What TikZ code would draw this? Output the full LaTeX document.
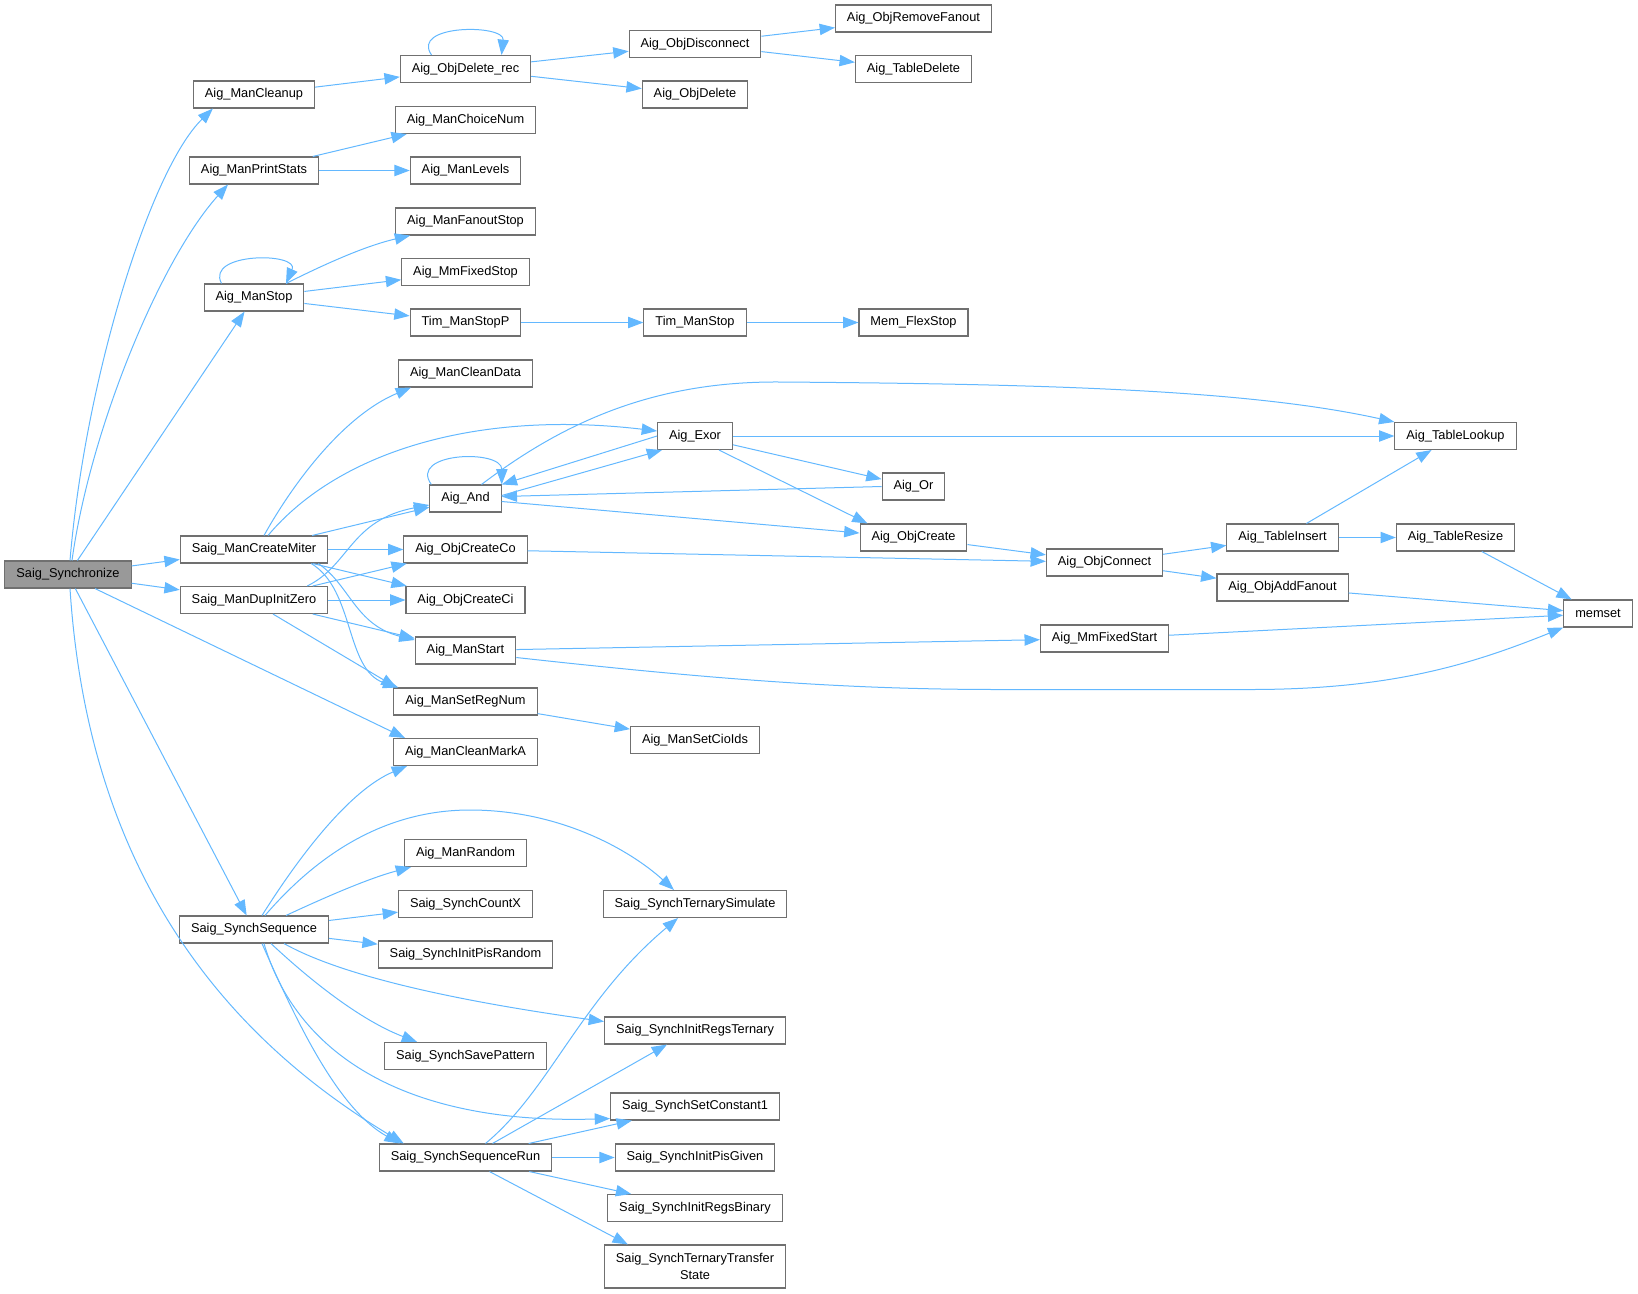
\documentclass[tikz,border=0pt]{standalone}
\usepackage{fontspec}
\setmainfont{Liberation Sans}
\usetikzlibrary{arrows.meta,calc}
\definecolor{edgeblue}{HTML}{63B8FF}
\definecolor{boxgray}{HTML}{707070}
\definecolor{rootgray}{HTML}{999999}

\begin{document}
\begin{tikzpicture}[x=0.75pt,y=-0.75pt,
		fn/.style={draw=boxgray,fill=white,line width=0.8pt,inner xsep=8.6pt,inner ysep=0pt,
			minimum height=20.25pt,font=\fontsize{9.6}{12.5}\selectfont},
		root/.style={fn,fill=rootgray},
		call/.style={draw=edgeblue,line width=0.75pt,-{Triangle[length=11.5pt,width=8.5pt]}}]
		\useasboundingbox (0,0) rectangle (1638,1293);

		\node[root] (sync) at (68,574.5) {Saig\_Synchronize};
		\node[fn] (cleanup) at (254,94.5) {Aig\_ManCleanup};
		\node[fn] (printstats) at (254,170.5) {Aig\_ManPrintStats};
		\node[fn] (manstop) at (254,297.5) {Aig\_ManStop};
		\node[fn] (miter) at (254,549.5) {Saig\_ManCreateMiter};
		\node[fn] (dupinit) at (254,600) {Saig\_ManDupInitZero};
		\node[fn] (synchseq) at (254,929.5) {Saig\_SynchSequence};
		\node[fn] (delrec) at (465.5,69) {Aig\_ObjDelete\_rec};
		\node[fn] (choicenum) at (465.5,120) {Aig\_ManChoiceNum};
		\node[fn] (levels) at (465.5,170.5) {Aig\_ManLevels};
		\node[fn] (fanoutstop) at (465.5,221.5) {Aig\_ManFanoutStop};
		\node[fn] (mmfixedstop) at (465.5,272) {Aig\_MmFixedStop};
		\node[fn] (timstopp) at (465.5,322.5) {Tim\_ManStopP};
		\node[fn] (cleandata) at (465.5,373.5) {Aig\_ManCleanData};
		\node[fn] (aigand) at (465.5,498.5) {Aig\_And};
		\node[fn] (createco) at (465.5,549.5) {Aig\_ObjCreateCo};
		\node[fn] (createci) at (465.5,600) {Aig\_ObjCreateCi};
		\node[fn] (manstart) at (465.5,650.5) {Aig\_ManStart};
		\node[fn] (setregnum) at (465.5,701.5) {Aig\_ManSetRegNum};
		\node[fn] (cleanmarka) at (465.5,752) {Aig\_ManCleanMarkA};
		\node[fn] (manrandom) at (465.5,853) {Aig\_ManRandom};
		\node[fn] (countx) at (465.5,904) {Saig\_SynchCountX};
		\node[fn] (pisrandom) at (465.5,954.5) {Saig\_SynchInitPisRandom};
		\node[fn] (savepattern) at (465.5,1056) {Saig\_SynchSavePattern};
		\node[fn] (seqrun) at (465.5,1157.5) {Saig\_SynchSequenceRun};
		\node[fn] (disconnect) at (695,44) {Aig\_ObjDisconnect};
		\node[fn] (objdelete) at (695,94.5) {Aig\_ObjDelete};
		\node[fn] (timstop) at (695,322.5) {Tim\_ManStop};
		\node[fn] (aigexor) at (695,436) {Aig\_Exor};
		\node[fn] (setcioids) at (695,740) {Aig\_ManSetCioIds};
		\node[fn] (ternsim) at (695,904) {Saig\_SynchTernarySimulate};
		\node[fn] (regsternary) at (695,1030.5) {Saig\_SynchInitRegsTernary};
		\node[fn] (setconst) at (695,1106.5) {Saig\_SynchSetConstant1};
		\node[fn] (pisgiven) at (695,1157.5) {Saig\_SynchInitPisGiven};
		\node[fn] (regsbinary) at (695,1208) {Saig\_SynchInitRegsBinary};
		\node[fn,align=center,minimum height=32.25pt] (ternxfer) at (695,1266.5) {Saig\_SynchTernaryTransfer\\State};
		\node[fn] (removefanout) at (913.5,18.5) {Aig\_ObjRemoveFanout};
		\node[fn] (tabledelete) at (913.5,69) {Aig\_TableDelete};
		\node[fn] (flexstop) at (913.5,322.5) {Mem\_FlexStop};
		\node[fn] (aigor) at (913.5,486.5) {Aig\_Or};
		\node[fn] (objcreate) at (913.5,537.5) {Aig\_ObjCreate};
		\node[fn] (objconnect) at (1104.5,562.5) {Aig\_ObjConnect};
		\node[fn] (mmfixedstart) at (1104.5,638.5) {Aig\_MmFixedStart};
		\node[fn] (tableinsert) at (1282.5,537.5) {Aig\_TableInsert};
		\node[fn] (addfanout) at (1282.5,587.5) {Aig\_ObjAddFanout};
		\node[fn] (tablelookup) at (1455.5,436) {Aig\_TableLookup};
		\node[fn] (tableresize) at (1455.5,537.5) {Aig\_TableResize};
		\node[fn] (memset) at (1598,613.5) {memset};

		\draw[call] ($(sync.north)+(2,0)$) .. controls (85,380) and (150,170) .. ($(cleanup.south west)+(20,0)$);
		\draw[call] ($(sync.north)+(4,0)$) .. controls (90,430) and (160,260) .. ($(printstats.south west)+(39,0)$);
		\draw[call] (sync) -- (manstop);
		\draw[call] (sync) -- (miter);
		\draw[call] (sync) -- (dupinit);
		\draw[call] ($(sync.south)+(27,0)$) -- ($(cleanmarka.north west)+(12,0)$);
		\draw[call] (sync) -- (synchseq);
		\draw[call] ($(sync.south)+(2,0)$) .. controls (85,820) and (180,1010) .. ($(seqrun.north west)+(25,0)$);

		\draw[call] (cleanup) -- (delrec);
		\draw[call] ($(delrec.north)+(-34,0)$) .. controls (410,24) and (505,24) .. ($(delrec.north)+(36,0)$);
		\draw[call] (delrec) -- (disconnect);
		\draw[call] (delrec) -- (objdelete);
		\draw[call] (disconnect) -- (removefanout);
		\draw[call] (disconnect) -- (tabledelete);
		\draw[call] (printstats) -- (choicenum);
		\draw[call] (printstats) -- (levels);
		\draw[call] ($(manstop.north)+(-32.5,0)$) .. controls (205,252) and (300,252) .. ($(manstop.north)+(32,0)$);
		\draw[call] ($(manstop.north)+(32,0)$) .. controls (325,264) and (365,246) .. ($(fanoutstop.south west)+(15,0)$);
		\draw[call] (manstop) -- (mmfixedstop);
		\draw[call] (manstop) -- (timstopp);
		\draw[call] (timstopp) -- (timstop);
		\draw[call] (timstop) -- (flexstop);

		\draw[call] ($(miter.north)+(10,0)$) .. controls (295,480) and (345,415) .. ($(cleandata.south west)+(13,0)$);
		\draw[call] ($(miter.north)+(14,0)$) .. controls (340,450) and (480,410) .. ($(aigexor.west)+(0,-5)$);
		\draw[call] (miter) -- (aigand);
		\draw[call] (miter) -- (createco);
		\draw[call] (miter) -- (createci);
		\draw[call] ($(miter.south east)+(-10,0)$) .. controls (350,585) and (355,625) .. ($(manstart.west)+(0,-10.5)$);
		\draw[call] ($(miter.south east)+(-17,0)$) .. controls (355,590) and (345,670) .. ($(setregnum.north west)+(5,0)$);
		\draw[call] ($(dupinit.north east)+(-21,0)$) .. controls (350,565) and (350,520) .. ($(aigand.west)+(0,6.5)$);
		\draw[call] (dupinit) -- (createco);
		\draw[call] (dupinit) -- (createci);
		\draw[call] (dupinit) -- (manstart);
		\draw[call] ($(dupinit.south)+(19,0)$) -- ($(setregnum.north west)+(3,0)$);

		\draw[call] ($(aigand.north west)+(2,0)$) .. controls (408,452) and (502,449) .. (aigand.north east);
		\draw[call] ($(aigand.north)+(16,0)$) .. controls (560,425) and (650,381) .. (780,382)
			.. controls (1050,384) and (1250,390) .. (tablelookup.north west);
		\draw[call] ($(aigand.east)+(0,-3)$) -- ($(aigexor.south west)+(5,0)$);
		\draw[call] ($(aigand.east)+(0,3)$) -- ($(objcreate.west)+(0,-4.5)$);
		\draw[call] (aigexor.west) -- (aigand.north east);
		\draw[call] (aigexor) -- (tablelookup);
		\draw[call] (aigexor) -- (aigor);
		\draw[call] ($(aigexor.south)+(24,0)$) -- ($(objcreate.north west)+(8,0)$);
		\draw[call] (aigor.west) -- ($(aigand.east)+(0,-2)$);
		\draw[call] (createco) -- (objconnect);
		\draw[call] (objcreate) -- (objconnect);
		\draw[call] (objconnect) -- (tableinsert);
		\draw[call] (objconnect) -- (addfanout);
		\draw[call] (tableinsert) -- (tablelookup);
		\draw[call] (tableinsert) -- (tableresize);
		\draw[call] (tableresize) -- (memset);
		\draw[call] (addfanout) -- (memset);
		\draw[call] (mmfixedstart) -- (memset);
		\draw[call] (manstart) -- (mmfixedstart);
		\draw[call] ($(manstart.east)+(0,7)$) .. controls (720,680) and (850,689.5) .. (1000,689.5) -- (1250,689.5)
			.. controls (1390,689.5) and (1470,665) .. (memset.south west);
		\draw[call] (setregnum) -- (setcioids);

		\draw[call] ($(synchseq.north)+(8,0)$) .. controls (300,855) and (350,790) .. ($(cleanmarka.south west)+(14,0)$);
		\draw[call] ($(synchseq.north)+(11,0)$) .. controls (330,840) and (400,810) .. (470,810)
			.. controls (560,810) and (630,850) .. ($(ternsim.north)+(-21,0)$);
		\draw[call] ($(synchseq.north)+(32,0)$) .. controls (330,895) and (370,878) .. ($(manrandom.south west)+(7,0)$);
		\draw[call] (synchseq) -- (countx);
		\draw[call] (synchseq) -- (pisrandom);
		\draw[call] ($(synchseq.south)+(30,0)$) .. controls (340,975) and (450,1000) .. ($(regsternary.west)+(0,-9)$);
		\draw[call] ($(synchseq.south)+(17,0)$) .. controls (310,980) and (360,1020) .. ($(savepattern.north west)+(33,0)$);
		\draw[call] ($(synchseq.south)+(10,0)$) .. controls (295,1050) and (400,1125) .. ($(setconst.south west)+(0,-2)$);
		\draw[call] ($(synchseq.south)+(8,0)$) .. controls (300,1030) and (340,1110) .. ($(seqrun.north west)+(21,0)$);

		\draw[call] ($(seqrun.north)+(20,0)$) .. controls (550,1090) and (580,1000) .. ($(ternsim.south)+(-17,0)$);
		\draw[call] ($(seqrun.north)+(27,0)$) -- ($(regsternary.south)+(-28,0)$);
		\draw[call] (seqrun) -- (setconst);
		\draw[call] (seqrun) -- (pisgiven);
		\draw[call] (seqrun) -- (regsbinary);
		\draw[call] ($(seqrun.south)+(24,0)$) -- ($(ternxfer.north west)+(24,0)$);
\end{tikzpicture}
\end{document}
